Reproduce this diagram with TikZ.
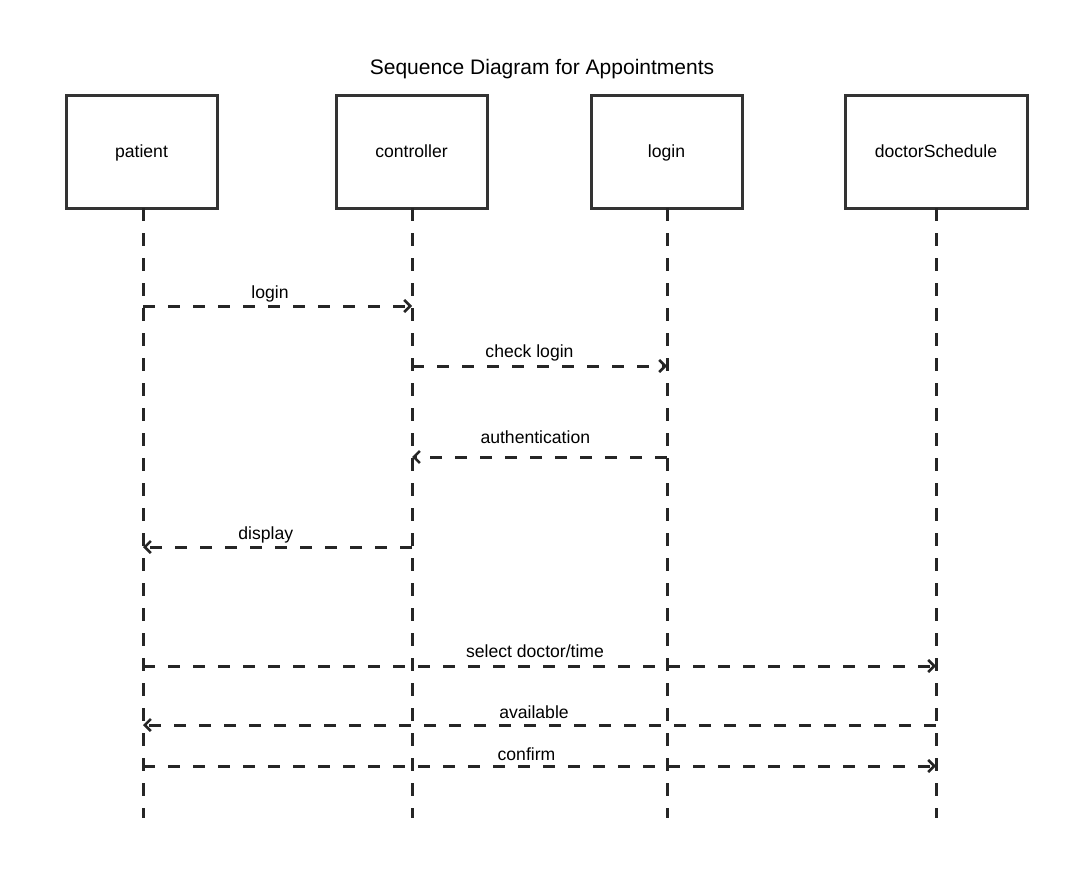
\documentclass[tikz,border=0pt]{standalone}
\usepackage{fontspec}
\setmainfont{Liberation Sans}
\usetikzlibrary{arrows.meta}
\begin{document}
\begin{tikzpicture}[x=1pt,y=-1pt,
  objbox/.style={draw=black!80, line width=3pt, minimum width=#1, minimum height=112pt, inner sep=0pt, text height=12.7pt, text depth=2pt, font=\fontsize{17.6}{20}\selectfont},
  lifeline/.style={draw=black!85, line width=3pt, dash pattern=on 13pt off 12pt},
  msg/.style={draw=black!85, line width=3pt, dash pattern=on 12pt off 13pt, -{Straight Barb[length=6pt,width=12pt,line width=2.6pt]}},
  msglabel/.style={anchor=base, inner sep=0pt, font=\fontsize{17.6}{20}\selectfont}]
\useasboundingbox (0,0) rectangle (1084,888);
\node[anchor=base, font=\fontsize{21}{24}\selectfont] (title) at (542,75) {Sequence Diagram for Appointments};
% objects
\node[objbox=151pt] (patient) at (141.5,152) {patient};
\node[objbox=151pt] (controller) at (411.5,152) {controller};
\node[objbox=151pt] (login) at (666.5,152) {login};
\node[objbox=182pt] (doctor) at (936,152) {doctorSchedule};
% lifeline ends
\coordinate (patEnd) at (143,818);
\coordinate (conEnd) at (412,818);
\coordinate (logEnd) at (667,818);
\coordinate (docEnd) at (936,818);
\draw[lifeline] (143,208) -- (patEnd);
\draw[lifeline] (412,208) -- (conEnd);
\draw[lifeline] (667,208) -- (logEnd);
\draw[lifeline] (936,208) -- (docEnd);
% message endpoints
\coordinate (m1a) at (143,306);   \coordinate (m1b) at (412,306);
\coordinate (m2a) at (412,366);   \coordinate (m2b) at (667,366);
\coordinate (m3a) at (667,457);   \coordinate (m3b) at (412,457);
\coordinate (m4a) at (412,547);   \coordinate (m4b) at (143,547);
\coordinate (m5a) at (143,666);   \coordinate (m5b) at (936,666);
\coordinate (m6a) at (936,725);   \coordinate (m6b) at (143,725);
\coordinate (m7a) at (143,766);   \coordinate (m7b) at (936,766);
\draw[msg] (m1a) -- (m1b);
\draw[msg] (m2a) -- (m2b);
\draw[msg] (m3a) -- (m3b);
\draw[msg] (m4a) -- (m4b);
\draw[msg] (m5a) -- (m5b);
\draw[msg] (m6a) -- (m6b);
\draw[msg] (m7a) -- (m7b);
% labels
\node[msglabel] (l1) at (270,298) {login};
\node[msglabel] (l2) at (529.5,357) {check login};
\node[msglabel] (l3) at (535.3,443.5) {authentication};
\node[msglabel] (l4) at (265.8,539) {display};
\node[msglabel] (l5) at (535,657) {select doctor/time};
\node[msglabel] (l6) at (534,718.5) {available};
\node[msglabel] (l7) at (526.5,760) {confirm};
\end{tikzpicture}
\end{document}
